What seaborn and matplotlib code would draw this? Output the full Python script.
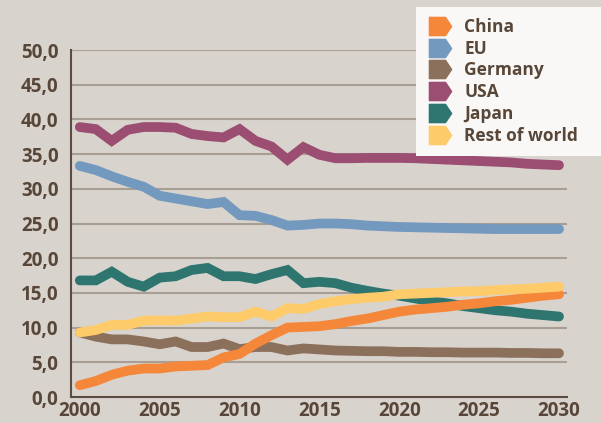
"""Cuota de mercado por región, 2000-2030."""

import matplotlib.pyplot as plt
import numpy as np
import pandas as pd
import seaborn as sns
from matplotlib.lines import Line2D
from matplotlib.path import Path
from matplotlib.ticker import FixedLocator

years = list(range(2000, 2031))

china = [1.7, 2.3, 3.2, 3.8, 4.1, 4.1, 4.4, 4.5, 4.6, 5.7, 6.2, 7.7, 8.9, 10.0, 10.1, 10.2,
         10.5, 10.95, 11.3, 11.8, 12.3, 12.6, 12.8, 13.0, 13.3, 13.5, 13.8, 14.0, 14.3, 14.6, 14.8]
eu = [33.3, 32.7, 31.8, 31.0, 30.3, 29.0, 28.6, 28.2, 27.8, 28.1, 26.2, 26.1, 25.5, 24.7, 24.8, 25.0,
      25.0, 24.9, 24.7, 24.6, 24.5, 24.45, 24.4, 24.35, 24.3, 24.25, 24.2, 24.2, 24.2, 24.2, 24.2]
germany = [9.3, 8.7, 8.3, 8.3, 8.0, 7.6, 8.0, 7.2, 7.2, 7.7, 6.9, 7.2, 7.2, 6.7, 7.0, 6.85,
           6.7, 6.65, 6.6, 6.6, 6.5, 6.5, 6.45, 6.45, 6.4, 6.4, 6.4, 6.35, 6.35, 6.3, 6.3]
usa = [38.9, 38.6, 36.9, 38.5, 38.9, 38.9, 38.8, 37.9, 37.6, 37.4, 38.6, 36.9, 36.1, 34.2, 36.0, 34.9,
       34.4, 34.4, 34.45, 34.45, 34.45, 34.4, 34.3, 34.2, 34.1, 34.0, 33.9, 33.8, 33.6, 33.5, 33.4]
japan = [16.8, 16.8, 18.05, 16.6, 15.9, 17.2, 17.4, 18.3, 18.6, 17.4, 17.4, 17.0, 17.7, 18.3, 16.4, 16.6,
         16.4, 15.75, 15.3, 14.9, 14.6, 14.2, 13.8, 13.5, 13.1, 12.8, 12.5, 12.3, 12.0, 11.8, 11.6]
rest = [9.3, 9.65, 10.4, 10.4, 11.0, 11.05, 11.0, 11.3, 11.6, 11.5, 11.5, 12.3, 11.6, 12.8, 12.7, 13.4,
        13.8, 14.1, 14.3, 14.45, 14.8, 14.9, 15.0, 15.1, 15.2, 15.25, 15.4, 15.5, 15.6, 15.75, 15.9]

series = {
    "China": china,
    "EU": eu,
    "Germany": germany,
    "USA": usa,
    "Japan": japan,
    "Rest of world": rest,
}
colores = {
    "China": "#f5873a",
    "EU": "#7399be",
    "Germany": "#8b705c",
    "USA": "#9b4d72",
    "Japan": "#2e7570",
    "Rest of world": "#fecb6a",
}
orden_dibujo = ["Germany", "Japan", "EU", "USA", "China", "Rest of world"]

y_ticks = [0, 5, 10, 15, 20, 25, 30, 35, 40, 45, 50]
x_ticks = [2000, 2005, 2010, 2015, 2020, 2025, 2030]

fondo = "#d9d3ce"
texto = "#584739"
fuente = ["Open Sans", "DejaVu Sans"]

df = pd.DataFrame(
    [(r, a, v) for r, vals in series.items() for a, v in zip(years, vals)],
    columns=["region", "anio", "valor"],
)

sns.set_style("white")
plt.rcParams["font.family"] = fuente

fig = plt.figure(figsize=(6.01, 4.23), dpi=100, facecolor=fondo)
ax = fig.add_axes([71 / 601, 26 / 423, 496 / 601, 347 / 423])
ax.set_facecolor(fondo)

for yv in y_ticks[1:]:
    ax.axhline(yv, color="#a99e93", lw=1.5, zorder=0)

sns.lineplot(
    data=df, x="anio", y="valor", hue="region", hue_order=orden_dibujo,
    palette=colores, linewidth=7, legend=False, ax=ax,
    solid_capstyle="round", solid_joinstyle="miter",
)

ax.set_xlim(1999.45, 2030.5)
ax.set_ylim(0, 50)
ax.set_xlabel("")
ax.set_ylabel("")

for lado in ("top", "right"):
    ax.spines[lado].set_visible(False)
for lado in ("left", "bottom"):
    ax.spines[lado].set_color("#5b4b40")
    ax.spines[lado].set_linewidth(1.5)

ax.set_yticks(y_ticks)
ax.set_yticklabels([f"{v:.1f}".replace(".", ",") for v in y_ticks])
ax.set_xticks(x_ticks)
ax.set_xticklabels([str(v) for v in x_ticks])
ax.xaxis.set_minor_locator(FixedLocator(np.arange(1999.5, 2031, 1)))
ax.tick_params(axis="x", which="major", length=0, pad=3, labelsize=13.5, labelcolor=texto)
ax.tick_params(axis="x", which="minor", length=5, width=1.3, color="#5b4b40", direction="out")
ax.tick_params(axis="y", length=6, width=1.3, color="#5b4b40", pad=3, labelsize=13.5, labelcolor=texto)
for lab in ax.get_xticklabels() + ax.get_yticklabels():
    lab.set_fontweight("bold")

# Marcador en forma de flecha para la leyenda
flecha = Path(
    [(-1, -0.82), (0.45, -0.82), (1, 0), (0.45, 0.82), (-1, 0.82), (-1, -0.82)],
    [Path.MOVETO, Path.LINETO, Path.LINETO, Path.LINETO, Path.LINETO, Path.CLOSEPOLY],
)
handles = [
    Line2D([], [], marker=flecha, markersize=16, color=colores[r], linestyle="none")
    for r in series
]
leg = fig.legend(
    handles, list(series.keys()), loc="upper left", mode="expand",
    bbox_to_anchor=(416 / 601, 0.655, 185 / 601, 1 - 7 / 423 - 0.655),
    frameon=True, fancybox=False,
    facecolor="#faf8f6", edgecolor="none", framealpha=1,
    prop={"family": fuente, "weight": "bold", "size": 12.5},
    labelspacing=0.22, handletextpad=0.6, borderpad=0.62, borderaxespad=0,
    handlelength=1.55,
)
for t in leg.get_texts():
    t.set_color(texto)

fig.savefig("out.png", dpi=100, facecolor=fondo)
